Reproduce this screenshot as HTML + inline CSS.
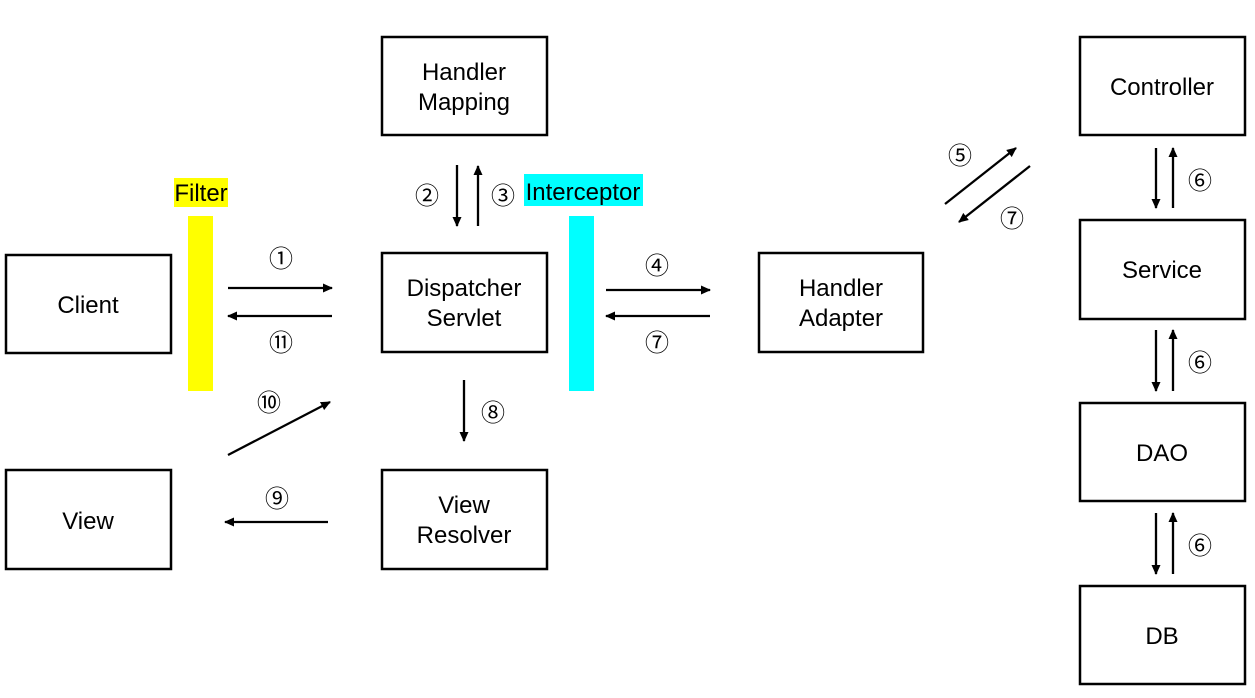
<!DOCTYPE html>
<html><head><meta charset="utf-8"><style>
html,body{margin:0;padding:0;background:#fff;width:1255px;height:698px;overflow:hidden}
svg text{font-family:"Liberation Sans","Noto Sans CJK KR",sans-serif;fill:#000}
.n{font-family:"DejaVu Sans","Liberation Sans",sans-serif;font-size:24px}
</style></head><body>
<svg width="1255" height="698" xmlns="http://www.w3.org/2000/svg">
<defs><marker id="a" markerWidth="10" markerHeight="10" refX="9" refY="5" orient="auto" markerUnits="userSpaceOnUse"><path d="M0,0.5 L10,5 L0,9.5 z" fill="#000"/></marker></defs>
<g fill="none" stroke="#000" stroke-width="2.5">
<rect x="6" y="255" width="165" height="98"/>
<rect x="382" y="37" width="165" height="98"/>
<rect x="382" y="253" width="165" height="99"/>
<rect x="382" y="470" width="165" height="99"/>
<rect x="6" y="470" width="165" height="99"/>
<rect x="759" y="253" width="164" height="99"/>
<rect x="1080" y="37" width="165" height="98"/>
<rect x="1080" y="220" width="165" height="99"/>
<rect x="1080" y="403" width="165" height="98"/>
<rect x="1080" y="586" width="165" height="98"/>
</g>
<rect x="174" y="178" width="54" height="29" fill="#ffff00"/>
<rect x="188" y="216" width="25" height="175" fill="#ffff00"/>
<rect x="524" y="174" width="119" height="32" fill="#00ffff"/>
<rect x="569" y="216" width="25" height="175" fill="#00ffff"/>
<g stroke="#000" stroke-width="2.3" marker-end="url(#a)">
<line x1="228" y1="288" x2="332" y2="288"/>
<line x1="332" y1="316" x2="228" y2="316"/>
<line x1="457" y1="165" x2="457" y2="226"/>
<line x1="478" y1="226" x2="478" y2="166"/>
<line x1="606" y1="290" x2="710" y2="290"/>
<line x1="710" y1="316" x2="606" y2="316"/>
<line x1="945" y1="204" x2="1016" y2="148"/>
<line x1="1030" y1="166" x2="959" y2="222"/>
<line x1="1156" y1="148" x2="1156" y2="208"/>
<line x1="1173" y1="208" x2="1173" y2="148"/>
<line x1="1156" y1="330" x2="1156" y2="391"/>
<line x1="1173" y1="391" x2="1173" y2="330"/>
<line x1="1156" y1="513" x2="1156" y2="574"/>
<line x1="1173" y1="574" x2="1173" y2="513"/>
<line x1="464" y1="380" x2="464" y2="441"/>
<line x1="328" y1="522" x2="225" y2="522"/>
<line x1="228" y1="455" x2="330" y2="402"/>
</g>
<g font-size="24" text-anchor="middle">
<text x="88" y="313">Client</text>
<text x="464" y="80">Handler</text><text x="464" y="110">Mapping</text>
<text x="464" y="296">Dispatcher</text><text x="464" y="326">Servlet</text>
<text x="464" y="513">View</text><text x="464" y="543">Resolver</text>
<text x="88" y="529">View</text>
<text x="841" y="296">Handler</text><text x="841" y="326">Adapter</text>
<text x="1162" y="95">Controller</text>
<text x="1162" y="278">Service</text>
<text x="1162" y="461">DAO</text>
<text x="1162" y="644">DB</text>
<text x="201" y="201">Filter</text>
<text x="583" y="200">Interceptor</text>
</g>
<g class="n" text-anchor="middle">
<text x="281" y="267">①</text>
<text x="281" y="351">⑪</text>
<text x="427" y="204">②</text>
<text x="503" y="204">③</text>
<text x="657" y="274">④</text>
<text x="657" y="351">⑦</text>
<text x="960" y="164">⑤</text>
<text x="1012" y="227">⑦</text>
<text x="1200" y="189">⑥</text>
<text x="1200" y="371">⑥</text>
<text x="1200" y="554">⑥</text>
<text x="493" y="421">⑧</text>
<text x="277" y="507">⑨</text>
<text x="269" y="411">⑩</text>
</g>
</svg>
</body></html>
